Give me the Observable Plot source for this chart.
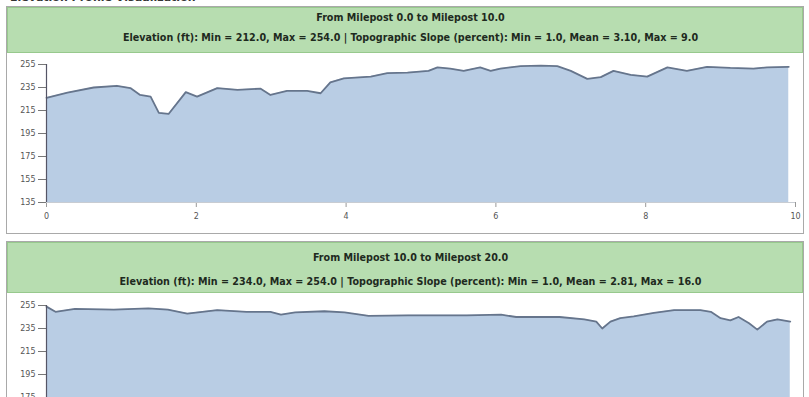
<!DOCTYPE html>
<html>
<head>
<meta charset="utf-8">
<script src="https://cdn.jsdelivr.net/npm/d3@7"></script>
<script src="https://cdn.jsdelivr.net/npm/@observablehq/plot@0.6"></script>
<style>
  html, body { margin: 0; padding: 0; width: 809px; height: 397px; overflow: hidden; background: #fff; font-family: "DejaVu Sans", Verdana, sans-serif; }
  .abs { position: absolute; }
  .panel { position: absolute; border: 1px solid #a9a9a9; box-sizing: border-box; background: #fff; }
  .hdr { position: absolute; background: #b7ddb0; border: 1px solid #97c98d; box-sizing: border-box; }
  .t { position: absolute; left: 6px; width: 809px; text-align: center; font-weight: bold; font-size: 9.6px; color: #1e2a1e; white-space: nowrap; line-height: 11px; }
  .plot { position: absolute; left: 0; }
</style>
</head>
<body>
<div class="abs" style="left:10px;top:-9px;font-weight:bold;font-size:11px;color:#333;">Elevation Profile Visualization</div>

<div class="panel" style="left:6px;top:6px;width:798px;height:228px;"></div>
<div class="hdr" style="left:7px;top:7px;width:796px;height:46px;"></div>
<div class="t" id="h1a" style="top:12px;"></div>
<div class="t" id="h1b" style="top:32px;"></div>
<div class="plot" id="p1" style="top:52px;"></div>

<div class="panel" style="left:6px;top:241px;width:798px;height:200px;"></div>
<div class="hdr" style="left:7px;top:242px;width:796px;height:51px;"></div>
<div class="t" id="h2a" style="top:252px;"></div>
<div class="t" id="h2b" style="top:276px;"></div>
<div class="plot" id="p2" style="top:293px;"></div>

<script>
// ---- data ----
const titles1 = ["From Milepost 0.0 to Milepost 10.0",
  "Elevation (ft): Min = 212.0, Max = 254.0 | Topographic Slope (percent): Min = 1.0, Mean = 3.10, Max = 9.0"];
const titles2 = ["From Milepost 10.0 to Milepost 20.0",
  "Elevation (ft): Min = 234.0, Max = 254.0 | Topographic Slope (percent): Min = 1.0, Mean = 2.81, Max = 16.0"];

const miles1 = [0, 0.28, 0.63, 0.94, 1.12, 1.25, 1.39, 1.50, 1.63, 1.86, 2.01, 2.28, 2.55, 2.86, 2.99, 3.21, 3.48, 3.66, 3.79, 3.97, 4.33, 4.55, 4.82, 5.10, 5.22, 5.39, 5.57, 5.79, 5.93, 6.06, 6.33, 6.60, 6.82, 7.00, 7.22, 7.40, 7.57, 7.80, 8.02, 8.29, 8.55, 8.82, 9.13, 9.44, 9.62, 9.91];
const elev1 = [226, 230.5, 235, 236.5, 234.5, 228.5, 227, 213, 212, 231, 227, 234.5, 233, 234, 228.5, 232, 232, 230, 239.5, 243, 244.5, 247.5, 248, 249.5, 252.5, 251.5, 249.5, 252.5, 249.5, 251.5, 253.5, 254, 253.5, 249.5, 242.5, 244, 249.5, 246, 244.5, 252.5, 249.5, 253, 252, 251.5, 252.5, 253];

const miles2 = [10.0, 10.12, 10.38, 10.90, 11.36, 11.62, 11.88, 12.28, 12.67, 12.99, 13.13, 13.32, 13.71, 13.98, 14.30, 14.83, 15.61, 16.07, 16.27, 16.85, 17.18, 17.34, 17.42, 17.53, 17.66, 17.84, 18.11, 18.38, 18.73, 18.87, 19.0, 19.13, 19.24, 19.38, 19.49, 19.62, 19.76, 19.93];
const elev2 = [254, 249.5, 252, 251.5, 252.5, 251.5, 248, 251, 249.5, 249.5, 247, 249, 250, 249, 246, 246.5, 246.5, 247, 245, 245, 243, 241, 235, 241, 244, 245.5, 248.5, 251, 251, 249.5, 244, 242, 245, 239.5, 234, 241, 243, 241];

const yTicks = [135, 155, 175, 195, 215, 235, 255];
const xTicks1 = [0, 2, 4, 6, 8, 10];
const xTicks2 = [10, 12, 14, 16, 18, 20];

// ---- drawing ----
function makeChart(miles, elev, xDomain, xTicks) {
  const data = miles.map((m, i) => ({m, e: elev[i]}));
  return Plot.plot({
    width: 809,
    height: 180,
    marginLeft: 46,
    marginRight: 14,
    marginTop: 12,
    marginBottom: 30,
    style: {fontFamily: "DejaVu Sans, Verdana, sans-serif", fontSize: "8px", color: "#444", background: "transparent"},
    x: {domain: xDomain, label: null},
    y: {domain: [135, 255], label: null},
    marks: [
      Plot.areaY(data, {x: "m", y1: 135, y2: "e", fill: "#b9cde4", curve: "linear"}),
      Plot.lineY(data, {x: "m", y: "e", stroke: "#66758c", strokeWidth: 1.8}),
      Plot.axisY({ticks: yTicks, tickSize: 8, tickPadding: 3, stroke: "#777", fill: "#555"}),
      Plot.axisX({ticks: xTicks, tickSize: 5, tickPadding: 6, stroke: "#999", fill: "#555"}),
      Plot.ruleX([xDomain[0]], {stroke: "#556", strokeWidth: 1.2}),
      Plot.ruleY([135], {stroke: "#c8ccd2"})
    ]
  });
}

document.getElementById("h1a").textContent = titles1[0];
document.getElementById("h1b").textContent = titles1[1];
document.getElementById("h2a").textContent = titles2[0];
document.getElementById("h2b").textContent = titles2[1];
document.getElementById("p1").appendChild(makeChart(miles1, elev1, [0, 10], xTicks1));
document.getElementById("p2").appendChild(makeChart(miles2, elev2, [10, 20], xTicks2));
</script>
</body>
</html>
